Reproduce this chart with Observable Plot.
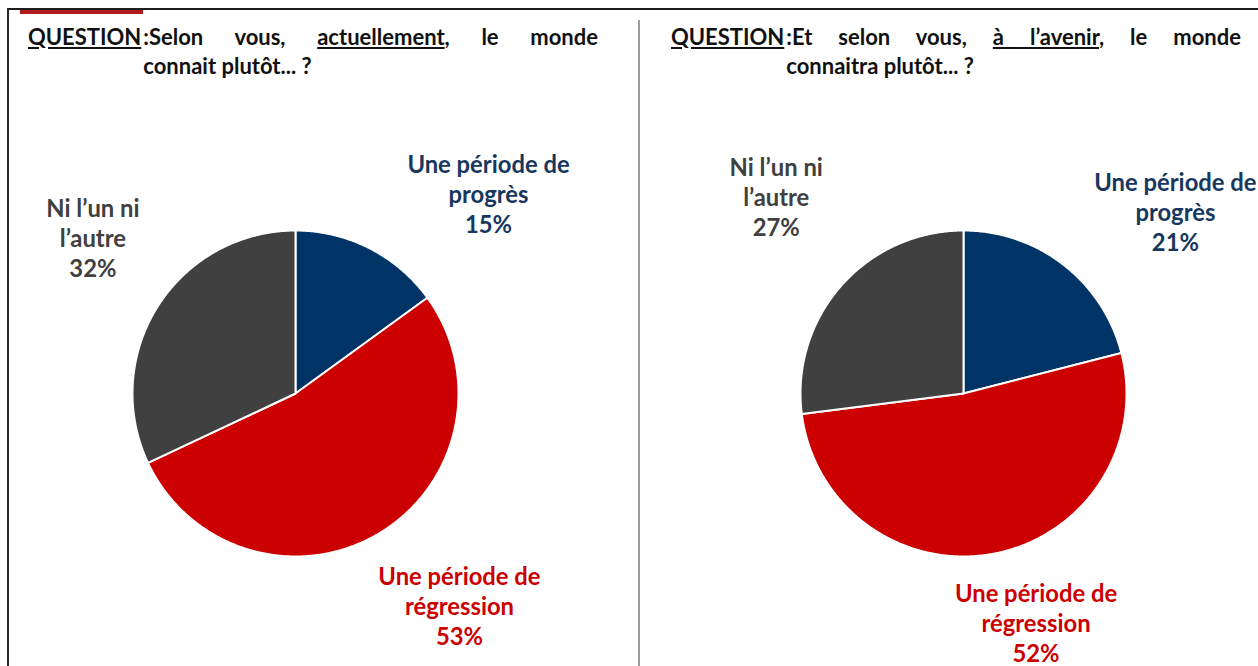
<!DOCTYPE html>
<html><head><meta charset="utf-8">
<script src="https://cdn.jsdelivr.net/npm/d3@7"></script>
<script src="https://cdn.jsdelivr.net/npm/@observablehq/plot@0.6"></script>
<style>
body{margin:0;background:#fff;font-family:Lato,"Open Sans",sans-serif;}
#page{position:relative;width:1258px;height:666px;overflow:hidden;background:#fff;}
.frame{position:absolute;left:7px;top:8px;width:1300px;height:700px;border-top:2px solid #1e1e1e;border-left:2px solid #2a2a2a;box-sizing:border-box;}
.redbar{position:absolute;left:20px;top:10px;width:123px;height:4px;background:#B2191C;}
.divider{position:absolute;left:638px;top:20px;width:2px;height:660px;background:#9a9a9a;}
.title{position:absolute;top:22px;display:flex;font-weight:700;font-size:22px;line-height:29px;color:#111;}
.title .q{text-decoration:underline;white-space:nowrap;margin-right:2px}
.title .body{flex:1}
.l1{text-align:justify;text-align-last:justify;}
.pie{position:absolute;top:0;}
</style></head>
<body><div id="page">
<div id="pieL" class="pie" style="left:0px"></div>
<div id="pieR" class="pie" style="left:640px"></div>
<div class="frame"></div>
<div class="redbar"></div>
<div class="divider"></div>
<div class="title" style="left:28px;width:570px"><span class="q">QUESTION</span><div class="body"><div class="l1">:Selon vous, <u>actuellement</u>, le monde</div><div>connait plutôt... ?</div></div></div>
<div class="title" style="left:671px;width:570px"><span class="q">QUESTION</span><div class="body"><div class="l1">:Et selon vous, <u>à l’avenir</u>, le monde</div><div>connaitra plutôt... ?</div></div></div>
</div>
<script>
const categories = ["Une période de progrès", "Une période de régression", "Ni l’un ni l’autre"];
const labelLines = [["Une période de", "progrès"], ["Une période de", "régression"], ["Ni l’un ni", "l’autre"]];
const valuesNow = [15, 53, 32];
const valuesFuture = [21, 52, 27];
const sliceColors = ["#003366", "#CC0000", "#404040"];
const textColors = ["#17375E", "#CC0000", "#404040"];

function pie(values, cfg) {
  const H = 666;
  const arcs = d3.pie().sort(null).startAngle(0).endAngle(2 * Math.PI)(values);
  const pts = [];
  arcs.forEach((a, i) => {
    const cat = categories[i];
    pts.push({cat, x: 0, y: 0});
    const n = Math.max(2, Math.ceil((a.endAngle - a.startAngle) / (Math.PI / 360)));
    for (let k = 0; k <= n; k++) {
      const t = a.startAngle + (a.endAngle - a.startAngle) * k / n;
      pts.push({cat, x: Math.sin(t), y: Math.cos(t)});
    }
  });
  const labels = arcs.map((a, i) => {
    const m = (a.startAngle + a.endAngle) / 2;
    const [nx, ny] = cfg.nudges[i];
    return {text: labelLines[i].join("\n") + "\n" + values[i] + "%",
            x: Math.sin(m) + nx / cfg.r, y: Math.cos(m) - ny / cfg.r, color: textColors[i]};
  });
  return Plot.plot({
    width: cfg.width, height: H, margin: 0,
    style: {background: "transparent", fontFamily: "Lato, 'Open Sans', sans-serif"},
    x: {domain: [-cfg.cx / cfg.r, (cfg.width - cfg.cx) / cfg.r], range: [0, cfg.width], axis: null},
    y: {domain: [-(H - cfg.cy) / cfg.r, cfg.cy / cfg.r], range: [H, 0], axis: null},
    color: {domain: categories, range: sliceColors},
    marks: [
      Plot.line(pts, {x: "x", y: "y", z: "cat", fill: "cat", stroke: "white", strokeWidth: 2, curve: "linear-closed"}),
      ...labels.map(l => Plot.text([l], {x: "x", y: "y", text: "text", fill: l.color, fontSize: 23.8, fontWeight: "bold",
        lineHeight: 30 / 23.8, lineAnchor: "middle", textAnchor: "middle"}))
    ]
  });
}

document.getElementById("pieL").append(pie(valuesNow, {width: 629, cx: 295, cy: 393, r: 163,
  nudges: [[119, -55], [81, 72], [-65, -69]]}));
document.getElementById("pieR").append(pie(valuesFuture, {width: 618, cx: 323, cy: 393, r: 163,
  nudges: [[112, -53], [42, 69], [-65, -89]]}));
</script>
</body></html>
